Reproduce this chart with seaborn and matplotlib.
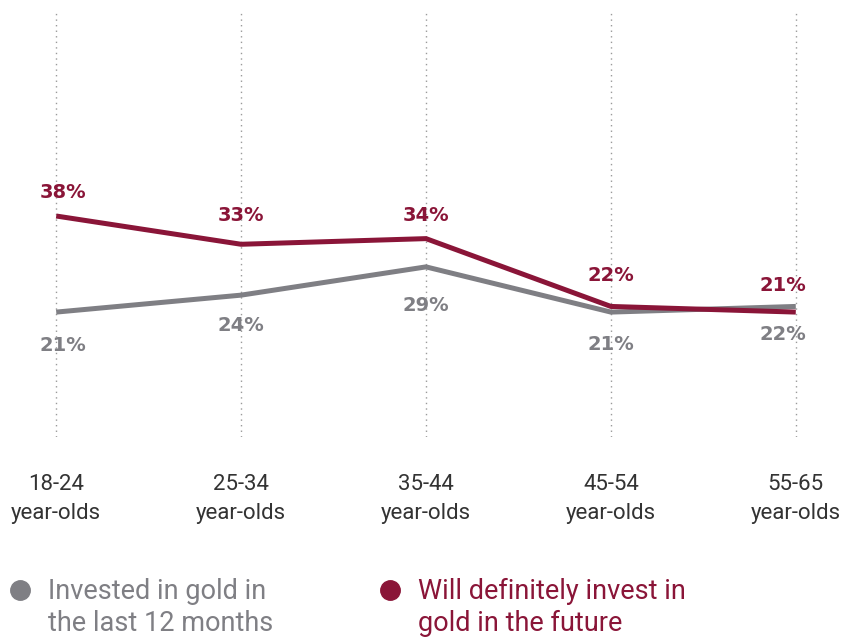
import matplotlib
matplotlib.use("Agg")
import matplotlib.pyplot as plt
from matplotlib.lines import Line2D
from matplotlib.legend_handler import HandlerLine2D
import seaborn as sns
import pandas as pd

categories = ["18-24\nyear-olds", "25-34\nyear-olds", "35-44\nyear-olds",
              "45-54\nyear-olds", "55-65\nyear-olds"]
invested = [21, 24, 29, 21, 22]
will_invest = [38, 33, 34, 22, 21]
series_names = ["Invested in gold in\nthe last 12 months",
                "Will definitely invest in\ngold in the future"]

GRAY = "#7f7f84"
RED = "#8a1538"

sns.set_style("white")
plt.rcParams["font.family"] = ["Roboto", "DejaVu Sans"]

df = pd.DataFrame({
    "pos": list(range(len(categories))) * 2,
    "value": invested + will_invest,
    "series": [series_names[0]] * len(categories) + [series_names[1]] * len(categories),
})

fig = plt.figure(figsize=(8.57, 6.37), dpi=100)
ax = fig.add_axes([10 / 857, 1 - 437 / 637, (842 - 10) / 857, (437 - 10) / 637])

sns.lineplot(data=df, x="pos", y="value", hue="series",
             palette={series_names[0]: GRAY, series_names[1]: RED},
             linewidth=3.6, legend=False, ax=ax, solid_capstyle="butt")

ax.set_xlim(-0.25, 4.25)
ax.set_ylim(-1.1, 74.45)
ax.set_xticks(range(len(categories)))
ax.set_xticklabels(categories, fontsize=16, color="#333333", linespacing=1.5)
ax.set_yticks([])
ax.tick_params(axis="x", length=0, pad=26.5)
ax.set_xlabel("")
ax.set_ylabel("")
ax.grid(axis="x", linestyle=(0, (1, 3)), color="#9a9a9a", linewidth=1)
ax.grid(axis="y", visible=False)
sns.despine(ax=ax, left=True, bottom=True)

# label nudges (points): keep edge labels inside the plot
x_nudge = [5, 0, 0, 0, -9]
red_dy = [17, 21, 17, 22, 19]
gray_dy = [-24, -22, -28, -23, -20]
for i, v in enumerate(will_invest):
    ax.annotate(f"{v}%", (i, v), xytext=(x_nudge[i], red_dy[i]), textcoords="offset points",
                ha="center", va="center", fontsize=14, fontweight="bold",
                color=RED, family=["DejaVu Sans"])
for i, v in enumerate(invested):
    ax.annotate(f"{v}%", (i, v), xytext=(x_nudge[i], gray_dy[i]), textcoords="offset points",
                ha="center", va="center", fontsize=14, fontweight="bold",
                color=GRAY, family=["DejaVu Sans"])


class FirstLineHandler(HandlerLine2D):
    """Place the legend marker level with the first line of a two-line label."""
    def create_artists(self, legend, orig_handle, xdescent, ydescent, width,
                       height, fontsize, trans):
        arts = super().create_artists(legend, orig_handle, xdescent, ydescent,
                                      width, height, fontsize, trans)
        for a in arts:
            a.set_ydata([y + 13.3 for y in a.get_ydata()])
        return arts


handles = [Line2D([], [], marker="o", linestyle="none", markersize=14,
                  markerfacecolor=c, markeredgecolor=c) for c in (GRAY, RED)]
leg = fig.legend(handles, series_names, loc="upper left",
                 bbox_to_anchor=(6.5 / 857, 1 - 578 / 637), ncol=2, frameon=False,
                 fontsize=19.5, handlelength=1.0, handletextpad=0.54,
                 columnspacing=3.8, borderaxespad=0, borderpad=0,
                 handler_map={Line2D: FirstLineHandler()})
for t, c in zip(leg.get_texts(), (GRAY, RED)):
    t.set_color(c)
    t.set_linespacing(1.25)

fig.savefig("out.png", dpi=100)
